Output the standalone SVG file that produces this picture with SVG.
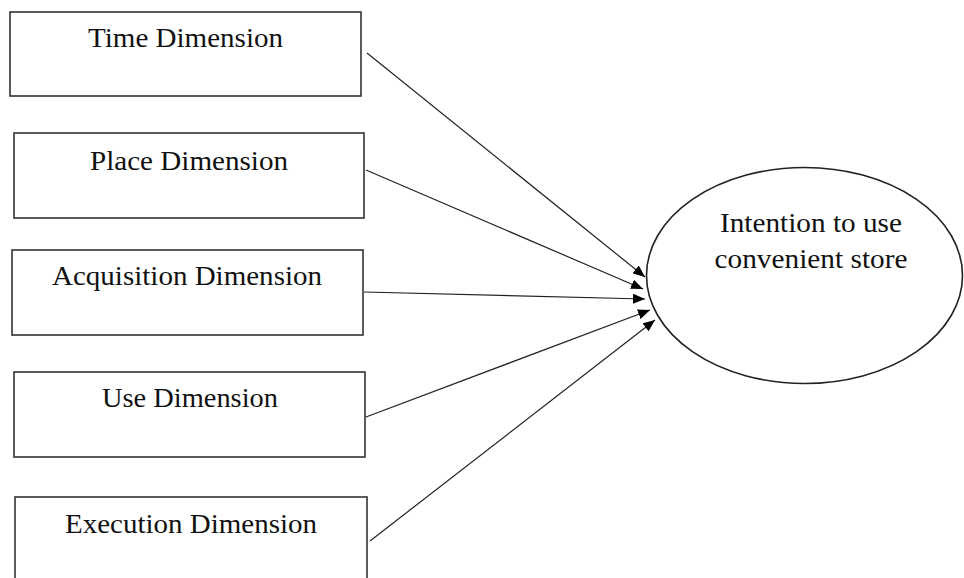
<svg xmlns="http://www.w3.org/2000/svg" width="964" height="578" viewBox="0 0 964 578">
<style>
.box{fill:#fff;stroke:#333;stroke-width:1.6}
.lbl{font-family:"Liberation Serif","Times New Roman",serif;font-size:28px;fill:#111;text-anchor:middle}
.conn{stroke:#222;stroke-width:1.2;fill:none;marker-end:url(#arr)}
</style>
<defs>
<marker id="arr" viewBox="0 0 12 10" refX="12" refY="5" markerWidth="12" markerHeight="10" markerUnits="userSpaceOnUse" orient="auto">
<path d="M0,0 L12,5 L0,10 Z" fill="#000"/>
</marker>
</defs>
<rect width="964" height="578" fill="#fff"/>
<g id="time">
<rect class="box" x="10" y="12" width="351" height="84"/>
<text class="lbl" x="185.5" y="47" textLength="195" lengthAdjust="spacingAndGlyphs">Time Dimension</text>
</g>
<g id="place">
<rect class="box" x="14" y="133" width="350" height="85"/>
<text class="lbl" x="189" y="170" textLength="198" lengthAdjust="spacingAndGlyphs">Place Dimension</text>
</g>
<g id="acquisition">
<rect class="box" x="12" y="250" width="351" height="85"/>
<text class="lbl" x="187" y="285" textLength="270" lengthAdjust="spacingAndGlyphs">Acquisition Dimension</text>
</g>
<g id="use">
<rect class="box" x="14" y="372" width="351" height="85"/>
<text class="lbl" x="190" y="407" textLength="176" lengthAdjust="spacingAndGlyphs">Use Dimension</text>
</g>
<g id="execution">
<rect class="box" x="15" y="497" width="352" height="90"/>
<text class="lbl" x="191" y="533" textLength="252" lengthAdjust="spacingAndGlyphs">Execution Dimension</text>
</g>
<g id="intention">
<ellipse cx="804.5" cy="275.5" rx="158" ry="108" fill="#fff" stroke="#222" stroke-width="1.6"/>
<text class="lbl" x="811" y="232" textLength="182" lengthAdjust="spacingAndGlyphs">Intention to use</text>
<text class="lbl" x="811" y="268" textLength="193" lengthAdjust="spacingAndGlyphs">convenient store</text>
</g>
<g id="connectors">
<line class="conn" x1="367" y1="53" x2="645" y2="277"/>
<line class="conn" x1="366" y1="170" x2="643" y2="289"/>
<line class="conn" x1="364" y1="292" x2="645" y2="299"/>
<line class="conn" x1="366" y1="417" x2="650" y2="310"/>
<line class="conn" x1="370" y1="541" x2="655" y2="320"/>
</g>
</svg>
